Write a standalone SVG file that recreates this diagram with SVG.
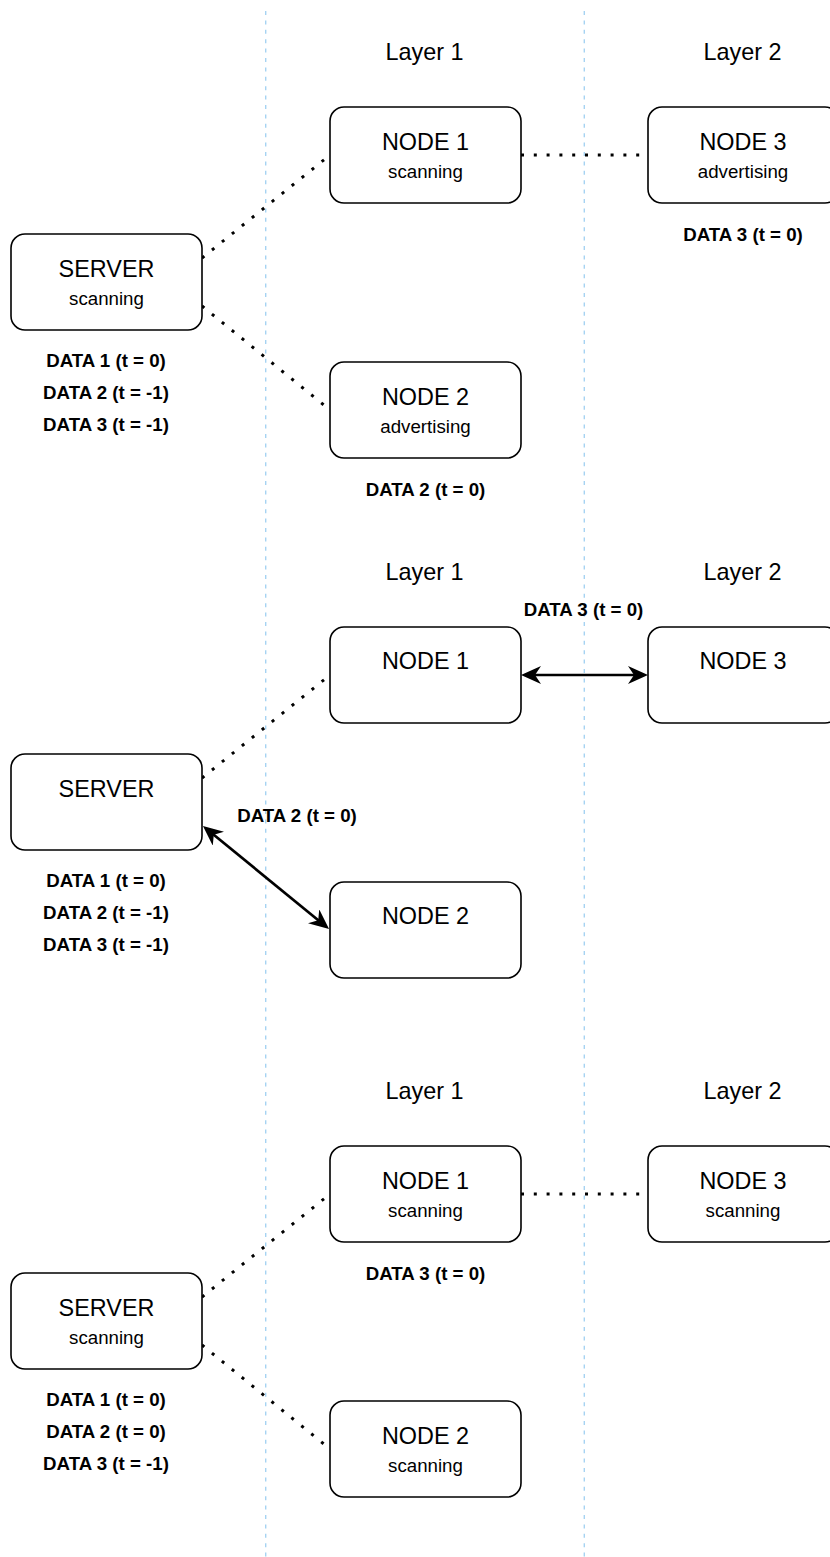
<svg xmlns="http://www.w3.org/2000/svg" width="830" height="1557" viewBox="0 0 830 1557">
<defs>
<style>
.box{fill:#fff;stroke:#000;stroke-width:1.6}
.t{font-family:"Liberation Sans",Arial,sans-serif;font-size:23.4px;fill:#000;text-anchor:middle}
.s{font-family:"Liberation Sans",Arial,sans-serif;font-size:18.7px;fill:#000;text-anchor:middle}
.d{font-family:"Liberation Sans",Arial,sans-serif;font-size:18.7px;font-weight:bold;fill:#000;text-anchor:middle}
.lane{stroke:#a6d3f2;stroke-width:1.4;stroke-dasharray:4 5.4;fill:none}
.dot{stroke:#000;stroke-width:3;stroke-dasharray:3 9.8;fill:none}
.arr{stroke:#000;stroke-width:2.7;fill:none;marker-start:url(#ah);marker-end:url(#ah)}
</style>
<marker id="ah" viewBox="0 0 20 18" refX="14" refY="9" markerWidth="20" markerHeight="18" markerUnits="userSpaceOnUse" orient="auto-start-reverse">
<path d="M0,0 L20,9 L0,18 L6,9 Z" fill="#000"/>
</marker>
</defs>
<rect width="830" height="1557" fill="#fff"/>
<g id="lanes">
<line class="lane" x1="265.7" y1="11" x2="265.7" y2="1557"/>
<line class="lane" x1="584.3" y1="11" x2="584.3" y2="1557"/>
</g>
<g id="connectors">
<line class="dot" x1="202" y1="258" x2="330" y2="155"/>
<line class="dot" x1="202" y1="306" x2="330" y2="410"/>
<line class="dot" x1="521" y1="155" x2="648" y2="155"/>
<line class="dot" x1="202" y1="778" x2="330" y2="675"/>
<line class="arr" x1="527" y1="675" x2="642" y2="675"/>
<line class="arr" x1="207.6" y1="829.8" x2="324.4" y2="925.2"/>
<line class="dot" x1="202" y1="1297" x2="330" y2="1194"/>
<line class="dot" x1="202" y1="1345" x2="330" y2="1449"/>
<line class="dot" x1="521" y1="1194" x2="648" y2="1194"/>
</g>
<g id="labels">
<text class="t" x="424.5" y="60">Layer 1</text>
<text class="t" x="742.5" y="60">Layer 2</text>
<text class="t" x="424.5" y="580">Layer 1</text>
<text class="t" x="742.5" y="580">Layer 2</text>
<text class="t" x="424.5" y="1099">Layer 1</text>
<text class="t" x="742.5" y="1099">Layer 2</text>
<text class="d" x="583.5" y="616">DATA 3 (t = 0)</text>
<text class="d" x="297" y="822">DATA 2 (t = 0)</text>
</g>
<!-- Panel 1 -->
<g id="p1-server">
<rect class="box" x="11" y="234" width="191" height="96" rx="14"/>
<text class="t" x="106.5" y="277">SERVER</text>
<text class="s" x="106.5" y="305">scanning</text>
<text class="d" x="106" y="367">DATA 1 (t = 0)</text>
<text class="d" x="106" y="399">DATA 2 (t = -1)</text>
<text class="d" x="106" y="431">DATA 3 (t = -1)</text>
</g>
<g id="p1-node1">
<rect class="box" x="330" y="107" width="191" height="96" rx="14"/>
<text class="t" x="425.5" y="150">NODE 1</text>
<text class="s" x="425.5" y="178">scanning</text>
</g>
<g id="p1-node2">
<rect class="box" x="330" y="362" width="191" height="96" rx="14"/>
<text class="t" x="425.5" y="405">NODE 2</text>
<text class="s" x="425.5" y="433">advertising</text>
<text class="d" x="425.5" y="496">DATA 2 (t = 0)</text>
</g>
<g id="p1-node3">
<rect class="box" x="648" y="107" width="191" height="96" rx="14"/>
<text class="t" x="743" y="150">NODE 3</text>
<text class="s" x="743" y="178">advertising</text>
<text class="d" x="743" y="241">DATA 3 (t = 0)</text>
</g>
<!-- Panel 2 -->
<g id="p2-server">
<rect class="box" x="11" y="754" width="191" height="96" rx="14"/>
<text class="t" x="106.5" y="797">SERVER</text>
<text class="d" x="106" y="887">DATA 1 (t = 0)</text>
<text class="d" x="106" y="919">DATA 2 (t = -1)</text>
<text class="d" x="106" y="951">DATA 3 (t = -1)</text>
</g>
<g id="p2-node1">
<rect class="box" x="330" y="627" width="191" height="96" rx="14"/>
<text class="t" x="425.5" y="669">NODE 1</text>
</g>
<g id="p2-node2">
<rect class="box" x="330" y="882" width="191" height="96" rx="14"/>
<text class="t" x="425.5" y="924">NODE 2</text>
</g>
<g id="p2-node3">
<rect class="box" x="648" y="627" width="191" height="96" rx="14"/>
<text class="t" x="743" y="669">NODE 3</text>
</g>
<!-- Panel 3 -->
<g id="p3-server">
<rect class="box" x="11" y="1273" width="191" height="96" rx="14"/>
<text class="t" x="106.5" y="1316">SERVER</text>
<text class="s" x="106.5" y="1344">scanning</text>
<text class="d" x="106" y="1406">DATA 1 (t = 0)</text>
<text class="d" x="106" y="1438">DATA 2 (t = 0)</text>
<text class="d" x="106" y="1470">DATA 3 (t = -1)</text>
</g>
<g id="p3-node1">
<rect class="box" x="330" y="1146" width="191" height="96" rx="14"/>
<text class="t" x="425.5" y="1189">NODE 1</text>
<text class="s" x="425.5" y="1217">scanning</text>
<text class="d" x="425.5" y="1280">DATA 3 (t = 0)</text>
</g>
<g id="p3-node2">
<rect class="box" x="330" y="1401" width="191" height="96" rx="14"/>
<text class="t" x="425.5" y="1444">NODE 2</text>
<text class="s" x="425.5" y="1472">scanning</text>
</g>
<g id="p3-node3">
<rect class="box" x="648" y="1146" width="191" height="96" rx="14"/>
<text class="t" x="743" y="1189">NODE 3</text>
<text class="s" x="743" y="1217">scanning</text>
</g>
</svg>
